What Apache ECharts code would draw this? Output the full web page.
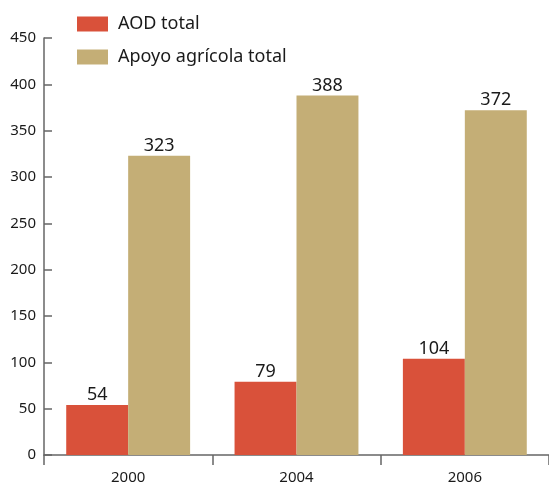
<!DOCTYPE html>
<html><head><meta charset="utf-8">
<script src="https://cdn.jsdelivr.net/npm/echarts@6/dist/echarts.min.js"></script>
<style>html,body{margin:0;padding:0;background:#fff}#c{width:549px;height:485px}</style>
</head><body><div id="c"></div>
<script>
const categories = ["2000", "2004", "2006"];
const aodTotal = [54, 79, 104];
const apoyoAgricola = [323, 388, 372];
const seriesNames = ["AOD total", "Apoyo agrícola total"];
const yTicks = { min: 0, max: 450, interval: 50 };

const font = "'Noto Sans', 'Open Sans', sans-serif";
const chart = echarts.init(document.getElementById('c'), null, { renderer: 'canvas' });
chart.setOption({
  animation: false,
  textStyle: { fontFamily: font },
  legend: {
    orient: 'vertical', left: 77, top: 15, itemWidth: 31, itemHeight: 15, itemGap: 15,
    icon: 'rect', padding: 0,
    textStyle: { fontSize: 18, lineHeight: 15, color: '#1a1a1a', fontFamily: font, padding: [0, 0, 0, 5] },
    data: seriesNames
  },
  grid: { left: 44, right: 0, top: 38, bottom: 30 },
  xAxis: {
    type: 'category', data: categories,
    axisLine: { lineStyle: { color: '#666', width: 1.5 } },
    axisTick: { show: true, length: 10, lineStyle: { color: '#666', width: 1.5 } },
    axisLabel: { fontSize: 15, color: '#1a1a1a', margin: 15, fontFamily: font }
  },
  yAxis: {
    type: 'value', min: yTicks.min, max: yTicks.max, interval: yTicks.interval,
    axisLine: { show: true, lineStyle: { color: '#666', width: 1.5 } },
    axisTick: { show: true, inside: true, length: 8, lineStyle: { color: '#666', width: 1.5 } },
    axisLabel: { fontSize: 15, color: '#1a1a1a', margin: 8, fontFamily: font },
    splitLine: { show: false }
  },
  series: [
    {
      name: seriesNames[0], type: 'bar', data: aodTotal, barWidth: '36.8%', barGap: '0%',
      itemStyle: { color: '#D9513A' },
      label: { show: true, position: 'top', fontSize: 18, color: '#1a1a1a', distance: 1, fontFamily: font }
    },
    {
      name: seriesNames[1], type: 'bar', data: apoyoAgricola, barWidth: '36.8%', barGap: '0%',
      itemStyle: { color: '#C4AE76' },
      label: { show: true, position: 'top', fontSize: 18, color: '#1a1a1a', distance: 1, fontFamily: font }
    }
  ]
});
</script></body></html>
